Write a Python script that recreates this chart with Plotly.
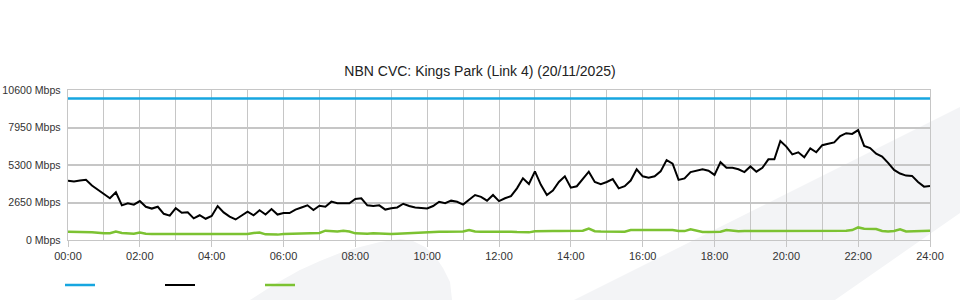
import plotly.graph_objects as go

# ---------------- data ----------------
TITLE = "NBN CVC: Kings Park (Link 4) (20/11/2025)"
# sample times in hours (10-minute steps, 00:00 .. 24:00)
hours = [i / 6 for i in range(145)]

capacity_mbps = [10000] * 145

traffic_mbps = [
    4190, 4130, 4200, 4250, 3850, 3530,   # 00
    3250, 2950, 3370, 2450, 2600, 2500,   # 01
    2750, 2350, 2220, 2350, 1850, 1720,   # 02
    2250, 1930, 1960, 1530, 1750, 1500,   # 03
    1700, 2400, 1950, 1650, 1450, 1750,   # 04
    2000, 1740, 2100, 1800, 2190, 1800,   # 05
    1900, 1900, 2150, 2300, 2450, 2120,   # 06
    2420, 2350, 2710, 2600, 2620, 2600,   # 07
    2900, 2950, 2450, 2400, 2450, 2150,   # 08
    2250, 2300, 2560, 2400, 2300, 2250,   # 09
    2230, 2400, 2700, 2600, 2780, 2700,   # 10
    2500, 2850, 3180, 3050, 2780, 3180,   # 11
    2750, 2950, 3100, 3650, 4360, 3960,   # 12
    4850, 3900, 3180, 3500, 4100, 4500,   # 13
    3700, 3800, 4300, 4830, 4100, 3950,   # 14
    4100, 4300, 3650, 3800, 4200, 5000,   # 15
    4500, 4400, 4500, 4850, 5650, 5400,   # 16
    4250, 4350, 4800, 4900, 5000, 4900,   # 17
    4600, 5500, 5100, 5100, 5000, 4800,   # 18
    5200, 4830, 5100, 5700, 5700, 7000,   # 19
    6600, 6050, 6200, 5850, 6480, 6200,   # 20
    6700, 6800, 6900, 7350, 7550, 7500,   # 21
    7770, 6650, 6500, 6100, 5900, 5450,   # 22
    4950, 4700, 4550, 4530, 4100, 3770,   # 23
    3820,                                 # 24
]

other_mbps = [
    590, 590, 580, 560, 540, 520,
    470, 480, 590, 500, 470, 450,
    520, 440, 430, 430, 430, 430,
    430, 430, 430, 430, 430, 430,
    430, 430, 430, 430, 430, 430,
    430, 500, 530, 400, 370, 380,
    430, 440, 440, 440, 440, 460,
    500, 660, 620, 600, 650, 600,
    470, 450, 450, 480, 450, 430,
    430, 450, 470, 540, 560, 570,
    560, 580, 590, 590, 590, 590,
    600, 710, 600, 580, 590, 590,
    580, 570, 590, 560, 560, 540,
    620, 640, 640, 640, 640, 640,
    640, 640, 650, 800, 620, 600,
    590, 600, 590, 590, 700, 700,
    710, 710, 700, 700, 700, 710,
    640, 630, 760, 640, 570, 570,
    560, 590, 700, 640, 620, 640,
    640, 620, 610, 640, 630, 600,
    620, 630, 640, 640, 620, 630,
    640, 630, 640, 640, 650, 700,
    890, 800, 790, 780, 640, 600,
    640, 760, 600, 610, 640, 660,
    650,
]

x_tick_vals = list(range(0, 25, 2))
x_tick_text = [f"{h:02d}:00" for h in x_tick_vals]
x_minor_vals = list(range(1, 24, 2))
y_tick_vals = [0, 2650, 5300, 7950, 10600]
y_tick_text = [f"{v} Mbps" for v in y_tick_vals]

# ---------------- layout geometry (pixels) ----------------
W, H = 960, 300
ML, MR, MT, MB = 68, 30, 90, 60
PW, PH = W - ML - MR, H - MT - MB


def px(xp, yp):
    return (xp - ML) / PW, (H - MB - yp) / PH


def path_from(points):
    pts = [px(a, b) for a, b in points]
    return "M " + " L ".join(f"{a:.4f},{b:.4f}" for a, b in pts) + " Z"


band = [(574, 300), (960, 107), (960, 213), (835, 300)]
blob = [(250, 300), (275, 284), (300, 270), (320, 261), (340, 253), (360, 247),
        (380, 242), (400, 239), (413, 241), (425, 247), (435, 256), (443, 268),
        (450, 282), (452, 300)]

fig = go.Figure()
fig.add_trace(go.Scatter(x=hours, y=capacity_mbps, mode="lines", name="",
                         line=dict(color="#16a6e0", width=2.5), hoverinfo="skip"))
fig.add_trace(go.Scatter(x=hours, y=traffic_mbps, mode="lines", name="",
                         line=dict(color="#000000", width=2)))
fig.add_trace(go.Scatter(x=hours, y=other_mbps, mode="lines", name="",
                         line=dict(color="#7cc232", width=2.5)))

grid = "#c6c6c6"
fig.update_layout(
    width=W, height=H,
    margin=dict(l=ML, r=MR, t=MT, b=MB, autoexpand=False),
    paper_bgcolor="white", plot_bgcolor="rgba(0,0,0,0)",
    font=dict(family="Liberation Sans, Arial, sans-serif", size=11, color="#333333"),
    title=dict(text=TITLE, x=0.5, xref="container", xanchor="center", y=1 - 71 / H,
               yanchor="middle", font=dict(size=14, color="#222222")),
    showlegend=True,
    legend=dict(orientation="h", x=(60 - ML) / PW, xanchor="left", y=-(285 - 240) / PH,
                yanchor="middle", entrywidth=55, entrywidthmode="pixels",
                font=dict(size=11), bgcolor="rgba(0,0,0,0)"),
    shapes=[
        dict(type="path", xref="paper", yref="paper", path=path_from(band),
             fillcolor="#f3f4f6", line=dict(width=0), layer="below"),
        dict(type="path", xref="paper", yref="paper", path=path_from(blob),
             fillcolor="#f3f4f6", line=dict(width=0), layer="below"),
    ],
)
fig.update_xaxes(range=[0, 24], tickmode="array", tickvals=x_tick_vals, ticktext=x_tick_text,
                 showgrid=True, gridcolor=grid, gridwidth=1.4,
                 minor=dict(tickvals=x_minor_vals, showgrid=True, gridcolor=grid, gridwidth=1.4),
                 ticks="outside", ticklen=6, tickcolor=grid, tickwidth=1.4,
                 showline=True, mirror=True, linecolor=grid, linewidth=1.4,
                 zeroline=False, fixedrange=True)
fig.update_yaxes(range=[0, 10600], tickmode="array", tickvals=y_tick_vals, ticktext=y_tick_text,
                 showgrid=True, gridcolor=grid, gridwidth=2,
                 ticks="", ticklabelstandoff=4, tickfont=dict(size=10.6),
                 showline=True, mirror=True, linecolor=grid, linewidth=1.4,
                 zeroline=False, fixedrange=True)

fig.write_html("out.html")
